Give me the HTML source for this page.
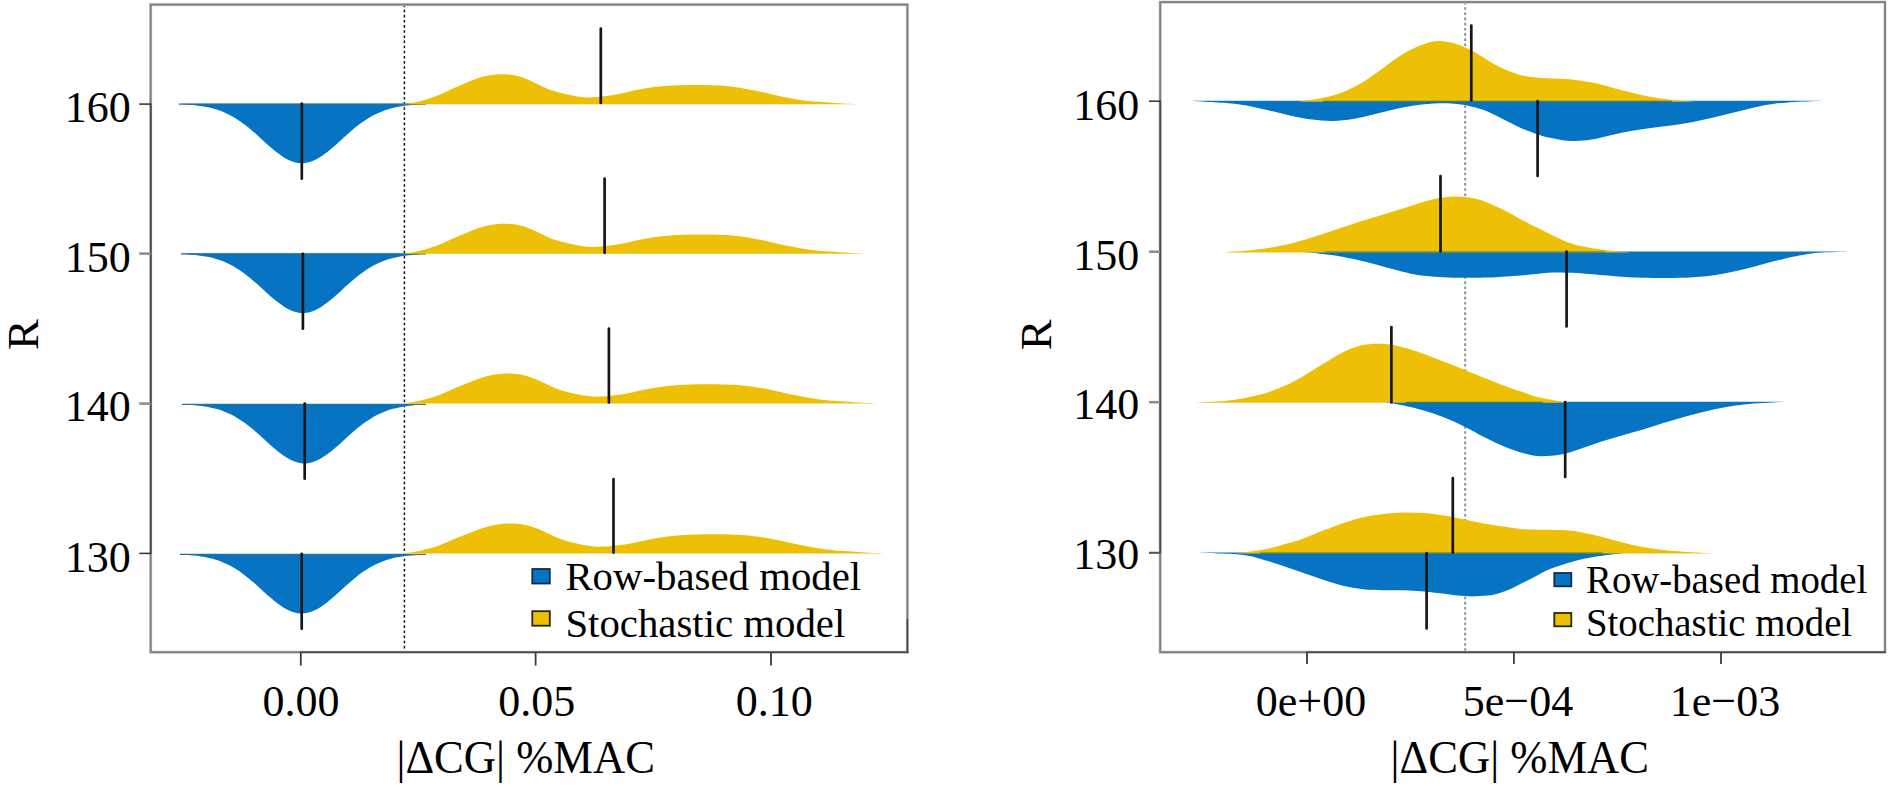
<!DOCTYPE html>
<html><head><meta charset="utf-8"><title>chart</title>
<style>
html,body{margin:0;padding:0;background:#fff;}
body{width:1889px;height:787px;overflow:hidden;font-family:"Liberation Serif",serif;}
svg{display:block;}
svg text{font-family:"Liberation Serif",serif;fill:#000;}
</style></head><body>
<svg width="1889" height="787" viewBox="0 0 1889 787">
<rect x="0" y="0" width="1889" height="787" fill="#ffffff"/>
<line x1="1465.2" y1="2.1" x2="1465.2" y2="652.2" stroke="#8a8a8a" stroke-width="1.9" stroke-dasharray="2.6 2.57"/>
<line x1="404.4" y1="4.6" x2="404.4" y2="652.2" stroke="#111" stroke-width="1.5" stroke-dasharray="2.6 2.53"/>
<path d="M179.0 103.8 C180.2 103.9 183.7 104.4 186.0 104.6 C188.3 104.8 190.7 104.9 193.0 105.1 C195.3 105.4 197.7 105.6 200.0 105.9 C202.3 106.3 204.7 106.7 207.0 107.1 C209.3 107.6 211.7 108.2 214.0 108.8 C216.3 109.5 218.7 110.2 221.0 111.1 C223.3 112.0 225.7 113.0 228.0 114.2 C230.3 115.3 232.7 116.6 235.0 118.0 C237.3 119.4 239.7 121.0 242.0 122.7 C244.3 124.4 246.7 126.2 249.0 128.1 C251.3 130.0 253.7 132.1 256.0 134.1 C258.3 136.2 260.7 138.4 263.0 140.5 C265.3 142.6 267.7 144.7 270.0 146.8 C272.3 148.8 274.7 150.8 277.0 152.6 C279.3 154.4 281.7 156.1 284.0 157.5 C286.3 158.9 288.7 160.1 291.0 161.0 C293.3 161.9 295.7 162.6 298.0 162.9 C300.3 163.3 302.7 163.3 305.0 163.0 C307.3 162.7 309.7 162.1 312.0 161.3 C314.3 160.4 316.7 159.2 319.0 157.8 C321.3 156.5 323.7 154.8 326.0 153.0 C328.3 151.3 330.7 149.3 333.0 147.3 C335.3 145.3 337.7 143.1 340.0 141.0 C342.3 138.9 344.7 136.7 347.0 134.7 C349.3 132.6 351.7 130.5 354.0 128.6 C356.3 126.7 358.7 124.8 361.0 123.1 C363.3 121.4 365.7 119.8 368.0 118.4 C370.3 116.9 372.7 115.6 375.0 114.5 C377.3 113.3 379.7 112.3 382.0 111.4 C384.3 110.4 386.7 109.7 389.0 109.0 C391.3 108.3 393.7 107.8 396.0 107.3 C398.3 106.8 400.7 106.4 403.0 106.0 C405.3 105.7 407.7 105.4 410.0 105.2 C412.3 105.0 414.7 104.9 417.0 104.6 C419.3 104.4 422.8 103.9 424.0 103.8 Z" fill="#0673C3"/>
<line x1="179.0" y1="104.1" x2="410.0" y2="104.1" stroke="#2f6f8f" stroke-width="1.3"/>
<line x1="410.0" y1="104.1" x2="426.0" y2="104.1" stroke="#6f7032" stroke-width="1.3"/>
<path d="M181.0 253.6 C182.2 253.7 185.7 254.2 188.0 254.5 C190.3 254.7 192.7 254.8 195.0 255.0 C197.3 255.3 199.7 255.5 202.0 255.9 C204.3 256.2 206.7 256.6 209.0 257.1 C211.3 257.6 213.7 258.2 216.0 258.9 C218.3 259.6 220.7 260.4 223.0 261.3 C225.3 262.2 227.7 263.3 230.0 264.5 C232.3 265.7 234.7 267.0 237.0 268.4 C239.3 269.9 241.7 271.5 244.0 273.2 C246.3 274.9 248.7 276.8 251.0 278.7 C253.3 280.7 255.7 282.7 258.0 284.8 C260.3 286.9 262.7 289.1 265.0 291.2 C267.3 293.3 269.7 295.4 272.0 297.4 C274.3 299.4 276.7 301.4 279.0 303.1 C281.3 304.9 283.7 306.5 286.0 307.9 C288.3 309.2 290.7 310.4 293.0 311.2 C295.3 312.0 297.7 312.6 300.0 312.9 C302.3 313.1 304.7 313.0 307.0 312.7 C309.3 312.3 311.7 311.6 314.0 310.7 C316.3 309.7 318.7 308.5 321.0 307.0 C323.3 305.6 325.7 303.9 328.0 302.1 C330.3 300.3 332.7 298.2 335.0 296.2 C337.3 294.2 339.7 292.0 342.0 289.9 C344.3 287.8 346.7 285.6 349.0 283.6 C351.3 281.5 353.7 279.5 356.0 277.6 C358.3 275.7 360.7 273.9 363.0 272.2 C365.3 270.5 367.7 269.0 370.0 267.6 C372.3 266.2 374.7 264.9 377.0 263.8 C379.3 262.6 381.7 261.7 384.0 260.8 C386.3 259.9 388.7 259.2 391.0 258.5 C393.3 257.9 395.7 257.3 398.0 256.9 C400.3 256.4 402.7 256.0 405.0 255.7 C407.3 255.4 409.7 255.1 412.0 254.9 C414.3 254.7 416.7 254.6 419.0 254.4 C421.3 254.2 424.8 253.7 426.0 253.6 Z" fill="#0673C3"/>
<line x1="181.0" y1="253.9" x2="410.0" y2="253.9" stroke="#2f6f8f" stroke-width="1.3"/>
<line x1="410.0" y1="253.9" x2="426.0" y2="253.9" stroke="#6f7032" stroke-width="1.3"/>
<path d="M182.0 404.0 C183.2 404.1 186.7 404.6 189.0 404.8 C191.3 405.1 193.7 405.1 196.0 405.4 C198.3 405.6 200.7 405.8 203.0 406.2 C205.3 406.5 207.7 406.9 210.0 407.4 C212.3 407.9 214.7 408.4 217.0 409.1 C219.3 409.8 221.7 410.5 224.0 411.4 C226.3 412.3 228.7 413.4 231.0 414.5 C233.3 415.7 235.7 417.0 238.0 418.4 C240.3 419.8 242.7 421.4 245.0 423.1 C247.3 424.8 249.7 426.6 252.0 428.6 C254.3 430.5 256.7 432.5 259.0 434.6 C261.3 436.7 263.7 438.8 266.0 440.9 C268.3 443.0 270.7 445.2 273.0 447.2 C275.3 449.2 277.7 451.2 280.0 453.0 C282.3 454.8 284.7 456.5 287.0 457.8 C289.3 459.2 291.7 460.5 294.0 461.3 C296.3 462.2 298.7 462.9 301.0 463.2 C303.3 463.5 305.7 463.5 308.0 463.2 C310.3 462.9 312.7 462.2 315.0 461.3 C317.3 460.5 319.7 459.2 322.0 457.8 C324.3 456.5 326.7 454.8 329.0 453.0 C331.3 451.2 333.7 449.2 336.0 447.2 C338.3 445.2 340.7 443.0 343.0 440.9 C345.3 438.8 347.7 436.7 350.0 434.6 C352.3 432.5 354.7 430.5 357.0 428.6 C359.3 426.6 361.7 424.8 364.0 423.1 C366.3 421.4 368.7 419.8 371.0 418.4 C373.3 417.0 375.7 415.7 378.0 414.5 C380.3 413.4 382.7 412.3 385.0 411.4 C387.3 410.5 389.7 409.8 392.0 409.1 C394.3 408.4 396.7 407.9 399.0 407.4 C401.3 406.9 403.7 406.5 406.0 406.2 C408.3 405.8 410.7 405.7 413.0 405.4 C415.3 405.0 418.8 404.2 420.0 404.0 Z" fill="#0673C3"/>
<line x1="182.0" y1="404.3" x2="410.0" y2="404.3" stroke="#2f6f8f" stroke-width="1.3"/>
<line x1="410.0" y1="404.3" x2="426.0" y2="404.3" stroke="#6f7032" stroke-width="1.3"/>
<path d="M180.0 554.1 C181.2 554.2 184.7 554.7 187.0 555.0 C189.3 555.2 191.7 555.3 194.0 555.6 C196.3 555.8 198.7 556.1 201.0 556.4 C203.3 556.8 205.7 557.2 208.0 557.7 C210.3 558.2 212.7 558.8 215.0 559.5 C217.3 560.2 219.7 561.0 222.0 561.9 C224.3 562.8 226.7 563.9 229.0 565.1 C231.3 566.3 233.7 567.6 236.0 569.1 C238.3 570.5 240.7 572.1 243.0 573.9 C245.3 575.6 247.7 577.5 250.0 579.4 C252.3 581.3 254.7 583.4 257.0 585.5 C259.3 587.6 261.7 589.8 264.0 591.9 C266.3 594.0 268.7 596.1 271.0 598.1 C273.3 600.1 275.7 602.1 278.0 603.8 C280.3 605.5 282.7 607.1 285.0 608.5 C287.3 609.8 289.7 611.0 292.0 611.8 C294.3 612.6 296.7 613.1 299.0 613.4 C301.3 613.6 303.7 613.5 306.0 613.1 C308.3 612.8 310.7 612.0 313.0 611.1 C315.3 610.1 317.7 608.8 320.0 607.4 C322.3 605.9 324.7 604.2 327.0 602.4 C329.3 600.6 331.7 598.6 334.0 596.5 C336.3 594.5 338.7 592.3 341.0 590.2 C343.3 588.1 345.7 585.9 348.0 583.9 C350.3 581.8 352.7 579.8 355.0 577.9 C357.3 576.0 359.7 574.2 362.0 572.6 C364.3 570.9 366.7 569.3 369.0 568.0 C371.3 566.6 373.7 565.3 376.0 564.2 C378.3 563.1 380.7 562.1 383.0 561.2 C385.3 560.3 387.7 559.6 390.0 559.0 C392.3 558.3 394.7 557.8 397.0 557.3 C399.3 556.8 401.7 556.5 404.0 556.2 C406.3 555.8 408.7 555.6 411.0 555.4 C413.3 555.2 415.7 555.1 418.0 554.9 C420.3 554.7 423.8 554.2 425.0 554.1 Z" fill="#0673C3"/>
<line x1="180.0" y1="554.4" x2="410.0" y2="554.4" stroke="#2f6f8f" stroke-width="1.3"/>
<line x1="410.0" y1="554.4" x2="426.0" y2="554.4" stroke="#6f7032" stroke-width="1.3"/>
<path d="M401.0 104.3 C403.0 104.0 408.9 103.5 413.0 102.8 C417.1 102.0 421.3 101.0 425.4 99.8 C429.5 98.6 433.3 97.3 437.5 95.6 C441.7 93.9 444.4 92.3 450.8 89.5 C457.2 86.7 469.7 81.2 476.2 78.8 C482.7 76.4 485.8 76.0 490.0 75.2 C494.2 74.4 497.9 74.2 501.7 74.2 C505.5 74.2 508.8 74.3 513.0 75.1 C517.2 75.9 520.4 76.6 527.0 79.2 C533.6 81.8 544.0 87.7 552.5 90.6 C561.0 93.5 571.1 95.4 577.9 96.5 C584.6 97.6 586.6 97.6 593.0 97.3 C599.4 97.0 607.9 95.9 616.0 94.5 C624.1 93.1 632.9 90.4 641.4 88.9 C649.9 87.5 658.3 86.5 666.8 85.8 C675.3 85.1 684.7 85.1 692.2 85.0 C699.7 84.9 705.6 85.0 712.0 85.2 C718.4 85.4 723.1 85.5 730.4 86.4 C737.7 87.3 747.3 89.0 755.8 90.7 C764.3 92.4 772.7 94.8 781.2 96.5 C789.7 98.2 798.1 99.8 806.6 100.8 C815.1 101.8 823.4 102.1 832.0 102.7 C840.6 103.3 853.7 104.0 858.0 104.3 Z" fill="#EDC006"/>
<path d="M400.9 253.8 C402.9 253.6 409.0 253.1 413.2 252.3 C417.3 251.6 421.7 250.5 425.9 249.3 C430.0 248.1 433.9 246.8 438.3 245.1 C442.6 243.4 445.3 241.8 451.9 239.0 C458.6 236.2 471.3 230.7 478.0 228.3 C484.8 225.9 487.9 225.5 492.2 224.7 C496.6 223.9 500.3 223.7 504.2 223.7 C508.1 223.7 511.4 223.8 515.7 224.6 C520.0 225.4 523.2 226.1 529.9 228.7 C536.6 231.3 547.1 237.2 555.7 240.1 C564.3 243.0 574.6 244.9 581.4 246.0 C588.3 247.1 590.3 247.1 596.8 246.8 C603.2 246.5 612.0 245.4 620.2 244.0 C628.4 242.6 637.4 239.8 646.1 238.4 C654.7 237.0 663.3 236.0 672.0 235.3 C680.6 234.7 690.2 234.6 697.9 234.5 C705.6 234.4 711.6 234.5 718.1 234.7 C724.6 234.9 729.4 235.0 736.9 235.9 C744.3 236.8 754.1 238.5 762.8 240.2 C771.4 241.9 780.0 244.3 788.7 246.0 C797.3 247.7 805.9 249.3 814.6 250.3 C823.2 251.3 831.8 251.6 840.5 252.2 C849.2 252.8 862.6 253.5 867.0 253.8 Z" fill="#EDC006"/>
<path d="M400.8 403.6 C402.9 403.4 409.1 402.9 413.4 402.1 C417.7 401.4 422.2 400.3 426.5 399.1 C430.9 397.9 434.9 396.6 439.4 394.9 C443.9 393.2 446.7 391.6 453.6 388.8 C460.5 386.0 473.9 380.5 480.9 378.1 C487.9 375.7 491.1 375.3 495.6 374.5 C500.1 373.7 503.9 373.5 507.9 373.5 C511.9 373.5 515.3 373.6 519.7 374.4 C524.1 375.2 527.4 375.9 534.1 378.5 C540.9 381.1 551.4 387.0 560.1 389.9 C568.7 392.8 579.1 394.7 586.0 395.8 C592.9 396.9 595.0 396.9 601.6 396.6 C608.1 396.3 617.1 395.2 625.4 393.8 C633.8 392.4 643.1 389.6 651.9 388.2 C660.8 386.8 669.6 385.8 678.5 385.1 C687.3 384.5 697.1 384.4 705.0 384.3 C712.9 384.2 719.0 384.3 725.7 384.5 C732.4 384.7 737.3 384.8 744.9 385.7 C752.6 386.6 762.6 388.3 771.5 390.0 C780.3 391.7 789.2 394.1 798.0 395.8 C806.9 397.5 815.7 399.1 824.6 400.1 C833.4 401.1 842.1 401.4 851.1 402.0 C860.1 402.6 873.7 403.3 878.3 403.6 Z" fill="#EDC006"/>
<path d="M400.7 553.6 C402.9 553.3 409.3 552.8 413.6 552.1 C418.0 551.3 422.6 550.3 427.1 549.1 C431.5 547.9 435.6 546.6 440.3 544.9 C444.9 543.2 447.8 541.6 454.9 538.8 C462.0 536.0 475.8 530.5 483.0 528.1 C490.2 525.7 493.5 525.3 498.1 524.5 C502.7 523.7 506.6 523.5 510.7 523.5 C514.8 523.5 518.3 523.6 522.7 524.4 C527.1 525.2 530.4 525.9 537.2 528.5 C544.0 531.1 554.5 537.0 563.2 539.9 C571.9 542.8 582.2 544.7 589.2 545.8 C596.1 546.9 598.2 546.9 604.9 546.6 C611.5 546.3 620.5 545.2 629.0 543.8 C637.5 542.4 646.9 539.6 655.9 538.2 C664.9 536.7 673.9 535.7 682.9 535.1 C691.9 534.4 701.8 534.4 709.8 534.3 C717.8 534.2 724.1 534.3 730.9 534.5 C737.6 534.7 742.7 534.8 750.4 535.7 C758.2 536.6 768.4 538.3 777.4 540.0 C786.4 541.7 795.4 544.1 804.4 545.8 C813.4 547.5 822.3 549.1 831.3 550.1 C840.3 551.1 849.2 551.4 858.3 552.0 C867.4 552.6 881.3 553.3 885.9 553.6 Z" fill="#EDC006"/>
<line x1="301.8" y1="103.6" x2="301.8" y2="178.7" stroke="#161616" stroke-width="2.7" stroke-linecap="round"/>
<line x1="302.9" y1="253.8" x2="302.9" y2="328.7" stroke="#161616" stroke-width="2.7" stroke-linecap="round"/>
<line x1="304.7" y1="403.6" x2="304.7" y2="478.7" stroke="#161616" stroke-width="2.7" stroke-linecap="round"/>
<line x1="301.7" y1="553.9" x2="301.7" y2="628.7" stroke="#161616" stroke-width="2.7" stroke-linecap="round"/>
<line x1="600.8" y1="28.5" x2="600.8" y2="103.0" stroke="#161616" stroke-width="2.7" stroke-linecap="round"/>
<line x1="604.6" y1="178.5" x2="604.6" y2="252.8" stroke="#161616" stroke-width="2.7" stroke-linecap="round"/>
<line x1="608.9" y1="328.5" x2="608.9" y2="402.5" stroke="#161616" stroke-width="2.7" stroke-linecap="round"/>
<line x1="613.5" y1="479.0" x2="613.5" y2="552.6" stroke="#161616" stroke-width="2.7" stroke-linecap="round"/>
<path d="M1188.0 100.7 C1195.2 101.2 1220.5 102.5 1231.0 103.4 C1241.5 104.4 1244.5 105.1 1251.3 106.4 C1258.1 107.7 1264.8 109.5 1271.6 111.1 C1278.4 112.7 1285.2 114.6 1292.0 116.0 C1298.8 117.4 1305.5 118.8 1312.3 119.6 C1319.1 120.4 1325.8 121.1 1332.6 121.0 C1339.4 120.9 1346.2 120.1 1353.0 119.0 C1359.8 117.9 1366.5 116.1 1373.3 114.5 C1380.1 112.9 1386.8 110.9 1393.6 109.4 C1400.4 107.9 1407.2 106.4 1414.0 105.4 C1420.8 104.4 1427.5 103.7 1434.3 103.4 C1441.1 103.1 1448.5 103.3 1454.6 103.8 C1460.7 104.3 1465.8 105.3 1470.9 106.4 C1476.0 107.5 1480.2 108.6 1485.1 110.5 C1489.9 112.4 1494.1 114.7 1500.0 117.6 C1505.9 120.5 1513.5 124.7 1520.3 127.7 C1527.1 130.7 1533.9 133.5 1540.7 135.5 C1547.5 137.5 1555.2 139.0 1561.0 139.9 C1566.8 140.8 1570.1 141.1 1575.2 141.0 C1580.3 140.9 1585.4 140.5 1591.5 139.5 C1597.6 138.5 1605.0 136.3 1611.8 134.9 C1618.6 133.5 1625.3 132.0 1632.1 130.8 C1638.9 129.6 1645.7 128.6 1652.5 127.7 C1659.3 126.8 1666.0 126.2 1672.8 125.3 C1679.6 124.3 1686.3 123.3 1693.1 122.0 C1699.9 120.7 1706.7 119.2 1713.5 117.6 C1720.3 116.0 1727.0 114.2 1733.8 112.5 C1740.6 110.8 1747.3 108.9 1754.1 107.4 C1760.9 106.0 1767.6 104.7 1774.4 103.8 C1781.2 102.9 1786.3 102.4 1794.8 101.9 C1803.3 101.4 1820.2 100.9 1825.3 100.7 Z" fill="#0673C3"/>
<path d="M1298.0 101.7 C1302.1 101.1 1315.0 99.5 1322.5 97.9 C1330.0 96.3 1336.0 94.9 1342.8 92.2 C1349.6 89.5 1356.3 86.1 1363.1 82.0 C1369.9 77.9 1376.7 72.5 1383.5 67.8 C1390.3 63.0 1397.0 57.5 1403.8 53.5 C1410.6 49.5 1418.3 46.1 1424.1 44.0 C1429.8 41.9 1433.2 41.0 1438.3 40.9 C1443.4 40.8 1449.2 41.9 1454.6 43.4 C1460.0 44.9 1465.8 47.6 1470.9 50.1 C1476.0 52.6 1480.2 55.8 1485.1 58.6 C1489.9 61.5 1494.1 64.5 1500.0 67.2 C1505.9 69.9 1513.5 73.1 1520.3 74.9 C1527.1 76.7 1532.9 77.2 1540.7 77.9 C1548.5 78.6 1558.5 78.2 1567.0 79.0 C1575.5 79.8 1584.0 81.2 1591.5 82.6 C1599.0 84.0 1605.0 85.8 1611.8 87.5 C1618.6 89.2 1625.3 91.2 1632.1 92.8 C1638.9 94.4 1645.7 96.1 1652.5 97.3 C1659.3 98.5 1665.4 99.2 1672.8 99.9 C1680.2 100.6 1693.0 101.4 1697.0 101.7 Z" fill="#EDC006"/>
<line x1="1323.0" y1="101.3" x2="1672.0" y2="101.3" stroke="#4f7f3c" stroke-width="1.2"/>
<path d="M1300.0 251.4 C1305.6 252.1 1323.1 253.7 1333.4 255.3 C1343.7 256.9 1352.5 258.8 1362.0 261.0 C1371.5 263.2 1382.7 266.5 1390.6 268.6 C1398.5 270.7 1403.2 272.1 1409.6 273.4 C1415.9 274.7 1422.3 275.5 1428.7 276.2 C1435.1 276.9 1441.5 277.3 1447.8 277.6 C1454.1 277.9 1458.9 277.9 1466.8 277.8 C1474.7 277.7 1485.9 277.6 1495.4 277.2 C1504.9 276.8 1515.2 276.0 1524.0 275.3 C1532.8 274.6 1540.8 273.2 1548.0 272.8 C1555.2 272.4 1560.7 272.6 1567.0 272.8 C1573.3 273.0 1578.0 273.2 1586.0 273.8 C1594.0 274.4 1605.2 275.5 1614.8 276.2 C1624.4 276.9 1632.3 277.5 1643.4 277.8 C1654.5 278.1 1670.4 278.2 1681.5 277.8 C1692.6 277.4 1700.5 276.9 1710.0 275.7 C1719.5 274.5 1729.1 272.6 1738.6 270.5 C1748.1 268.4 1757.7 265.3 1767.2 262.9 C1776.7 260.5 1787.2 257.9 1795.8 256.2 C1804.4 254.5 1809.7 253.6 1818.7 252.8 C1827.7 252.0 1844.8 251.6 1850.0 251.4 Z" fill="#0673C3"/>
<path d="M1224.8 252.4 C1230.2 251.9 1247.0 250.9 1257.2 249.6 C1267.4 248.3 1276.3 246.9 1285.8 244.8 C1295.3 242.7 1304.9 239.7 1314.4 236.8 C1323.9 233.9 1333.4 230.4 1342.9 227.3 C1352.4 224.2 1362.0 221.1 1371.5 218.1 C1381.0 215.1 1390.6 212.1 1400.1 209.2 C1409.6 206.2 1421.4 202.3 1428.7 200.4 C1436.0 198.5 1439.2 198.1 1444.0 197.5 C1448.8 196.9 1452.5 196.5 1457.3 196.6 C1462.0 196.7 1467.7 197.2 1472.5 198.1 C1477.3 199.0 1480.5 199.8 1485.9 201.9 C1491.3 204.0 1498.6 207.3 1504.9 210.5 C1511.2 213.7 1517.7 217.7 1524.0 221.0 C1530.3 224.3 1535.8 227.0 1543.0 230.5 C1550.2 234.0 1559.8 239.1 1567.0 241.9 C1574.2 244.7 1579.7 245.7 1586.0 247.1 C1592.3 248.5 1597.7 249.2 1605.0 250.1 C1612.3 251.0 1625.8 252.0 1630.0 252.4 Z" fill="#EDC006"/>
<line x1="1325.0" y1="252.0" x2="1605.0" y2="252.0" stroke="#4f7f3c" stroke-width="1.2"/>
<path d="M1381.0 401.7 C1384.8 402.3 1396.4 403.9 1403.6 405.4 C1410.8 406.9 1417.2 408.5 1424.0 410.5 C1430.8 412.5 1437.5 414.9 1444.3 417.6 C1451.1 420.3 1457.8 423.4 1464.6 426.7 C1471.4 430.0 1478.2 434.1 1485.0 437.5 C1491.8 440.9 1498.5 444.3 1505.3 447.0 C1512.1 449.7 1519.7 452.3 1525.6 453.8 C1531.5 455.3 1534.8 456.1 1540.7 456.2 C1546.6 456.3 1554.2 455.9 1561.0 454.6 C1567.8 453.3 1574.5 450.7 1581.3 448.5 C1588.1 446.3 1594.8 443.8 1601.6 441.6 C1608.4 439.4 1615.2 437.5 1622.0 435.5 C1628.8 433.5 1635.5 431.8 1642.3 429.8 C1649.1 427.8 1655.8 425.4 1662.6 423.3 C1669.4 421.2 1676.2 419.1 1683.0 417.2 C1689.8 415.3 1696.5 413.5 1703.3 411.9 C1710.1 410.3 1716.8 408.6 1723.6 407.4 C1730.4 406.1 1737.2 405.1 1744.0 404.4 C1750.8 403.6 1757.3 403.3 1764.3 402.9 C1771.3 402.4 1782.4 401.9 1786.0 401.7 Z" fill="#0673C3"/>
<path d="M1196.3 402.7 C1202.0 402.3 1220.0 401.7 1230.8 400.3 C1241.6 398.9 1252.8 396.4 1261.3 394.2 C1269.8 392.0 1274.8 390.0 1281.6 387.1 C1288.4 384.2 1295.2 380.7 1302.0 376.9 C1308.8 373.1 1315.5 368.4 1322.3 364.3 C1329.1 360.2 1336.5 355.6 1342.6 352.5 C1348.7 349.4 1353.5 347.4 1358.9 346.0 C1364.3 344.6 1369.8 344.0 1375.2 343.8 C1380.6 343.6 1385.0 343.7 1391.4 344.8 C1397.8 345.9 1405.0 347.7 1413.8 350.5 C1422.6 353.3 1434.1 357.8 1444.3 361.7 C1454.5 365.6 1464.6 369.8 1474.8 373.9 C1485.0 378.0 1496.8 382.9 1505.3 386.1 C1513.8 389.3 1519.7 391.2 1525.6 393.2 C1531.5 395.1 1533.6 396.2 1540.7 397.8 C1547.8 399.4 1563.5 401.9 1568.0 402.7 Z" fill="#EDC006"/>
<line x1="1406.0" y1="402.3" x2="1543.0" y2="402.3" stroke="#4f7f3c" stroke-width="1.2"/>
<path d="M1192.0 552.6 C1200.2 553.0 1229.6 553.7 1241.2 554.8 C1252.8 555.9 1254.7 557.5 1261.5 559.3 C1268.3 561.1 1275.0 563.2 1281.8 565.4 C1288.6 567.6 1295.3 570.1 1302.1 572.5 C1308.9 574.9 1315.7 577.4 1322.5 579.6 C1329.3 581.8 1336.0 584.1 1342.8 585.7 C1349.6 587.3 1356.3 588.5 1363.1 589.2 C1369.9 590.0 1376.7 590.0 1383.5 590.2 C1390.3 590.4 1397.0 590.0 1403.8 590.2 C1410.6 590.4 1417.3 590.8 1424.1 591.4 C1430.9 592.0 1438.8 593.1 1444.4 593.8 C1450.1 594.5 1453.4 595.2 1458.0 595.6 C1462.6 596.0 1467.1 596.4 1472.0 596.4 C1476.9 596.4 1483.2 596.1 1487.6 595.6 C1492.0 595.1 1494.7 594.5 1498.2 593.5 C1501.7 592.5 1505.3 591.3 1508.8 589.8 C1512.3 588.3 1515.9 586.3 1519.4 584.5 C1522.9 582.7 1526.5 581.1 1530.0 579.2 C1533.5 577.4 1537.1 575.2 1540.6 573.4 C1544.1 571.6 1547.7 570.0 1551.2 568.6 C1554.7 567.2 1558.3 566.0 1561.8 564.9 C1565.3 563.8 1568.9 562.7 1572.4 561.7 C1575.9 560.7 1579.4 559.9 1582.9 559.1 C1586.4 558.3 1590.0 557.5 1593.5 556.9 C1597.0 556.3 1598.3 556.2 1604.1 555.5 C1609.8 554.8 1624.0 553.1 1628.0 552.6 Z" fill="#0673C3"/>
<path d="M1235.0 553.6 C1239.4 553.0 1253.7 551.5 1261.5 550.1 C1269.3 548.7 1275.0 546.9 1281.8 545.0 C1288.6 543.1 1295.3 541.4 1302.1 539.0 C1308.9 536.6 1315.7 533.4 1322.5 530.8 C1329.3 528.2 1336.0 525.6 1342.8 523.3 C1349.6 521.0 1356.3 518.8 1363.1 517.2 C1369.9 515.7 1376.7 514.8 1383.5 514.0 C1390.3 513.2 1397.0 512.6 1403.8 512.5 C1410.6 512.4 1417.3 512.6 1424.1 513.1 C1430.9 513.6 1437.6 514.5 1444.4 515.6 C1451.2 516.7 1458.0 518.2 1464.8 519.6 C1471.6 521.0 1478.3 522.5 1485.1 523.7 C1491.9 524.9 1499.4 525.9 1505.4 526.8 C1511.4 527.7 1515.0 528.5 1521.0 529.0 C1527.0 529.5 1533.8 529.6 1541.3 529.8 C1548.8 530.0 1558.9 529.8 1565.7 530.2 C1572.5 530.6 1575.9 531.3 1582.0 532.4 C1588.1 533.5 1595.5 535.2 1602.3 536.9 C1609.1 538.6 1615.8 540.9 1622.6 542.6 C1629.4 544.3 1636.2 545.9 1643.0 547.1 C1649.8 548.4 1656.5 549.3 1663.3 550.1 C1670.1 550.9 1674.8 551.2 1683.6 551.8 C1692.4 552.4 1710.6 553.3 1716.0 553.6 Z" fill="#EDC006"/>
<line x1="1260.0" y1="553.2" x2="1603.0" y2="553.2" stroke="#4f7f3c" stroke-width="1.2"/>
<line x1="1471.3" y1="25.5" x2="1471.3" y2="100.5" stroke="#161616" stroke-width="2.7" stroke-linecap="round"/>
<line x1="1440.5" y1="176.0" x2="1440.5" y2="251.5" stroke="#161616" stroke-width="2.7" stroke-linecap="round"/>
<line x1="1391.4" y1="327.1" x2="1391.4" y2="402.3" stroke="#161616" stroke-width="2.7" stroke-linecap="round"/>
<line x1="1452.8" y1="478.0" x2="1452.8" y2="552.6" stroke="#161616" stroke-width="2.7" stroke-linecap="round"/>
<line x1="1537.6" y1="101.0" x2="1537.6" y2="176.0" stroke="#161616" stroke-width="2.7" stroke-linecap="round"/>
<line x1="1566.6" y1="251.6" x2="1566.6" y2="326.5" stroke="#161616" stroke-width="2.7" stroke-linecap="round"/>
<line x1="1565.2" y1="402.0" x2="1565.2" y2="477.0" stroke="#161616" stroke-width="2.7" stroke-linecap="round"/>
<line x1="1426.6" y1="553.2" x2="1426.6" y2="628.4" stroke="#161616" stroke-width="2.7" stroke-linecap="round"/>
<rect x="150.7" y="4.6" width="756.7" height="647.6" fill="none" stroke="#d6d6d6" stroke-width="3.2"/>
<rect x="150.7" y="4.6" width="756.7" height="647.6" fill="none" stroke="#828282" stroke-width="2.0"/>
<rect x="1160.2" y="2.1" width="724.8" height="650.1" fill="none" stroke="#d6d6d6" stroke-width="3.2"/>
<rect x="1160.2" y="2.1" width="724.8" height="650.1" fill="none" stroke="#828282" stroke-width="2.0"/>
<line x1="300" y1="652.2" x2="908.4" y2="652.2" stroke="#4a4a4a" stroke-width="1.5"/>
<line x1="907.4" y1="619" x2="907.4" y2="652.9" stroke="#4a4a4a" stroke-width="1.5"/>
<line x1="1306" y1="652.2" x2="1886.0" y2="652.2" stroke="#4a4a4a" stroke-width="1.5"/>
<line x1="150.8" y1="103.4" x2="150.8" y2="554.1" stroke="#4a4a4a" stroke-width="1.7"/>
<line x1="1160.3" y1="100.5" x2="1160.3" y2="553.6" stroke="#4a4a4a" stroke-width="1.7"/>
<line x1="139.2" y1="104.1" x2="151" y2="104.1" stroke="#2e2e2e" stroke-width="1.5"/>
<line x1="139.2" y1="253.6" x2="151" y2="253.6" stroke="#8e8e8e" stroke-width="2.6"/>
<line x1="139.2" y1="403.6" x2="151" y2="403.6" stroke="#8e8e8e" stroke-width="2.6"/>
<line x1="139.2" y1="553.4" x2="151" y2="553.4" stroke="#2e2e2e" stroke-width="1.5"/>
<line x1="1149" y1="101.2" x2="1160" y2="101.2" stroke="#2e2e2e" stroke-width="1.5"/>
<line x1="1149" y1="251.7" x2="1160" y2="251.7" stroke="#8e8e8e" stroke-width="2.6"/>
<line x1="1149" y1="402.2" x2="1160" y2="402.2" stroke="#8e8e8e" stroke-width="2.6"/>
<line x1="1149" y1="552.8" x2="1160" y2="552.8" stroke="#555555" stroke-width="2.1"/>
<line x1="300.8" y1="652.2" x2="300.8" y2="665.6" stroke="#3c3c3c" stroke-width="1.8"/>
<line x1="535.6" y1="652.2" x2="535.6" y2="665.6" stroke="#3c3c3c" stroke-width="1.8"/>
<line x1="771.0" y1="652.2" x2="771.0" y2="665.6" stroke="#3c3c3c" stroke-width="1.8"/>
<line x1="1307.0" y1="652.2" x2="1307.0" y2="664.0" stroke="#3c3c3c" stroke-width="1.8"/>
<line x1="1513.9" y1="652.2" x2="1513.9" y2="664.0" stroke="#3c3c3c" stroke-width="1.8"/>
<line x1="1721.0" y1="652.2" x2="1721.0" y2="664.0" stroke="#3c3c3c" stroke-width="1.8"/>
<text font-size="44.00" text-anchor="end" transform="translate(130.8 122.2) scale(1 1.030)">160</text>
<text font-size="44.00" text-anchor="end" transform="translate(130.8 272.2) scale(1 1.030)">150</text>
<text font-size="44.00" text-anchor="end" transform="translate(130.8 421.4) scale(1 1.030)">140</text>
<text font-size="44.00" text-anchor="end" transform="translate(130.8 571.6) scale(1 1.030)">130</text>
<text font-size="44.00" text-anchor="end" transform="translate(1139.2 120.4) scale(1 1.030)">160</text>
<text font-size="44.00" text-anchor="end" transform="translate(1139.2 270.4) scale(1 1.030)">150</text>
<text font-size="44.00" text-anchor="end" transform="translate(1139.2 419.3) scale(1 1.030)">140</text>
<text font-size="44.00" text-anchor="end" transform="translate(1139.2 569.3) scale(1 1.030)">130</text>
<text font-size="44.00" text-anchor="middle" transform="translate(301.1 716.4) scale(1 1.030)">0.00</text>
<text font-size="44.00" text-anchor="middle" transform="translate(536.7 716.4) scale(1 1.030)">0.05</text>
<text font-size="44.00" text-anchor="middle" transform="translate(774.3 716.4) scale(1 1.030)">0.10</text>
<text font-size="44.00" text-anchor="middle" transform="translate(1311.0 716.4) scale(1 1.030)">0e+00</text>
<text font-size="44.00" text-anchor="middle" transform="translate(1518.0 716.4) scale(1 1.030)">5e−04</text>
<text font-size="44.00" text-anchor="middle" transform="translate(1725.0 716.4) scale(1 1.030)">1e−03</text>
<text font-size="44.60" text-anchor="middle" transform="translate(525.7 772.9) scale(1 1.025)">|ΔCG| %MAC</text>
<text font-size="44.60" text-anchor="middle" transform="translate(1519.8 773.0) scale(1 1.025)">|ΔCG| %MAC</text>
<text font-size="43.6" text-anchor="middle" transform="translate(37.7 334.7) rotate(-90) scale(1.06 1)">R</text>
<text font-size="43.6" text-anchor="middle" transform="translate(1051.4 334.9) rotate(-90) scale(1.06 1)">R</text>
<rect x="532.3" y="569.0" width="17.5" height="14.5" fill="#0673C3" stroke="#17294a" stroke-width="1.8"/>
<rect x="532.3" y="611.2" width="17.5" height="14.5" fill="#EDC006" stroke="#2b2410" stroke-width="1.8"/>
<text font-size="40.80" text-anchor="start" transform="translate(565.4 589.7) scale(1 1.000)">Row-based model</text>
<text font-size="40.80" text-anchor="start" transform="translate(565.4 636.6) scale(1 1.000)">Stochastic model</text>
<rect x="1554.3" y="573.0" width="17.0" height="13.3" fill="#0673C3" stroke="#17294a" stroke-width="1.8"/>
<rect x="1554.3" y="613.0" width="17.0" height="13.3" fill="#EDC006" stroke="#2b2410" stroke-width="1.8"/>
<text font-size="38.80" text-anchor="start" transform="translate(1586.0 592.6) scale(1 1.040)">Row-based model</text>
<text font-size="38.80" text-anchor="start" transform="translate(1586.0 636.4) scale(1 1.040)">Stochastic model</text>
</svg>
</body></html>
